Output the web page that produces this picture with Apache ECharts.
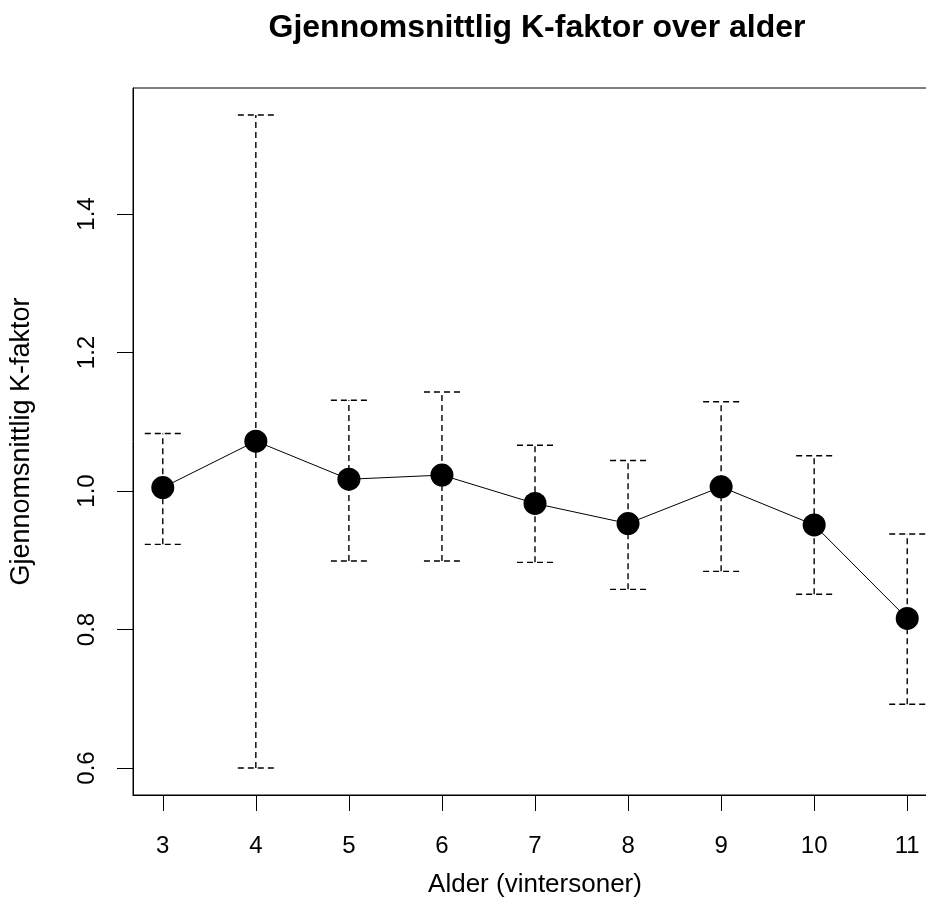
<!DOCTYPE html>
<html>
<head>
<meta charset="utf-8">
<script src="https://cdn.jsdelivr.net/npm/echarts@6/dist/echarts.min.js"></script>
<style>html,body{margin:0;padding:0;background:#fff;}#c{width:926px;height:922px;}</style>
</head>
<body>
<div id="c"></div>
<script>
var ages = [3, 4, 5, 6, 7, 8, 9, 10, 11];
var meanK = [1.005, 1.072, 1.017, 1.023, 0.982, 0.953, 1.006, 0.951, 0.816];
var upperK = [1.083, 1.543, 1.131, 1.143, 1.066, 1.044, 1.129, 1.051, 0.938];
var lowerK = [0.923, 0.600, 0.899, 0.899, 0.897, 0.858, 0.884, 0.851, 0.692];
var xTicks = [3, 4, 5, 6, 7, 8, 9, 10, 11];
var yTicks = [0.6, 0.8, 1.0, 1.2, 1.4];

var font = 'Liberation Sans, Arial, sans-serif';
var chart = echarts.init(document.getElementById('c'), null, {renderer: 'canvas'});

var pts = ages.map(function (a, i) { return [a, meanK[i]]; });
var bars = ages.map(function (a, i) { return [a, lowerK[i], upperK[i]]; });

chart.setOption({
  animation: false,
  backgroundColor: '#ffffff',
  title: {
    text: 'Gjennomsnittlig K-faktor over alder',
    left: 532, top: 7, textAlign: 'center',
    textStyle: {fontFamily: font, fontWeight: 'bold', fontSize: 32, color: '#000'}
  },
  grid: {left: 133, top: 88, width: 804, height: 707, outerBoundsMode: 'none', containLabel: false,
    show: true, borderColor: '#000', borderWidth: 1, backgroundColor: 'transparent'},
  xAxis: {
    type: 'value', min: 2.68, max: 11.32,
    name: 'Alder (vintersoner)', nameLocation: 'middle', nameGap: 77,
    nameTextStyle: {fontFamily: font, fontSize: 26, color: '#000'},
    axisLine: {show: true, lineStyle: {color: '#000', width: 1}},
    axisTick: {show: true, length: 16, inside: false, customValues: xTicks, lineStyle: {color: '#000'}},
    axisLabel: {show: true, customValues: xTicks, margin: 39, fontFamily: font, fontSize: 24, color: '#000'},
    splitLine: {show: false}
  },
  yAxis: {
    type: 'value', min: 0.561, max: 1.582,
    name: 'Gjennomsnittlig K-faktor', nameLocation: 'middle', nameGap: 98,
    nameTextStyle: {fontFamily: font, fontSize: 27, color: '#000'},
    axisLine: {show: true, lineStyle: {color: '#000', width: 1}},
    axisTick: {show: true, length: 16, inside: false, customValues: yTicks, lineStyle: {color: '#000'}},
    axisLabel: {show: true, customValues: yTicks, rotate: 90, margin: 34, fontFamily: font, fontSize: 24, color: '#000',
      formatter: function (v) { return v.toFixed(1); }},
    splitLine: {show: false}
  },
  series: [
    {
      type: 'line', data: pts, symbol: 'circle', symbolSize: 23,
      itemStyle: {color: '#000'}, lineStyle: {color: '#000', width: 1}, z: 3
    },
    {
      type: 'custom', data: bars, z: 4,
      renderItem: function (params, api) {
        var x = api.value(0);
        var lo = api.coord([x, api.value(1)]);
        var hi = api.coord([x, api.value(2)]);
        var w = 18;
        var st = {stroke: '#000', lineWidth: 1.4, lineDash: [6, 4]};
        return {
          type: 'group',
          children: [
            {type: 'line', shape: {x1: lo[0], y1: lo[1], x2: hi[0], y2: hi[1]}, style: st},
            {type: 'line', shape: {x1: hi[0] - w, y1: hi[1], x2: hi[0] + w, y2: hi[1]}, style: st},
            {type: 'line', shape: {x1: lo[0] - w, y1: lo[1], x2: lo[0] + w, y2: lo[1]}, style: st}
          ]
        };
      }
    }
  ]
});
</script>
</body>
</html>
